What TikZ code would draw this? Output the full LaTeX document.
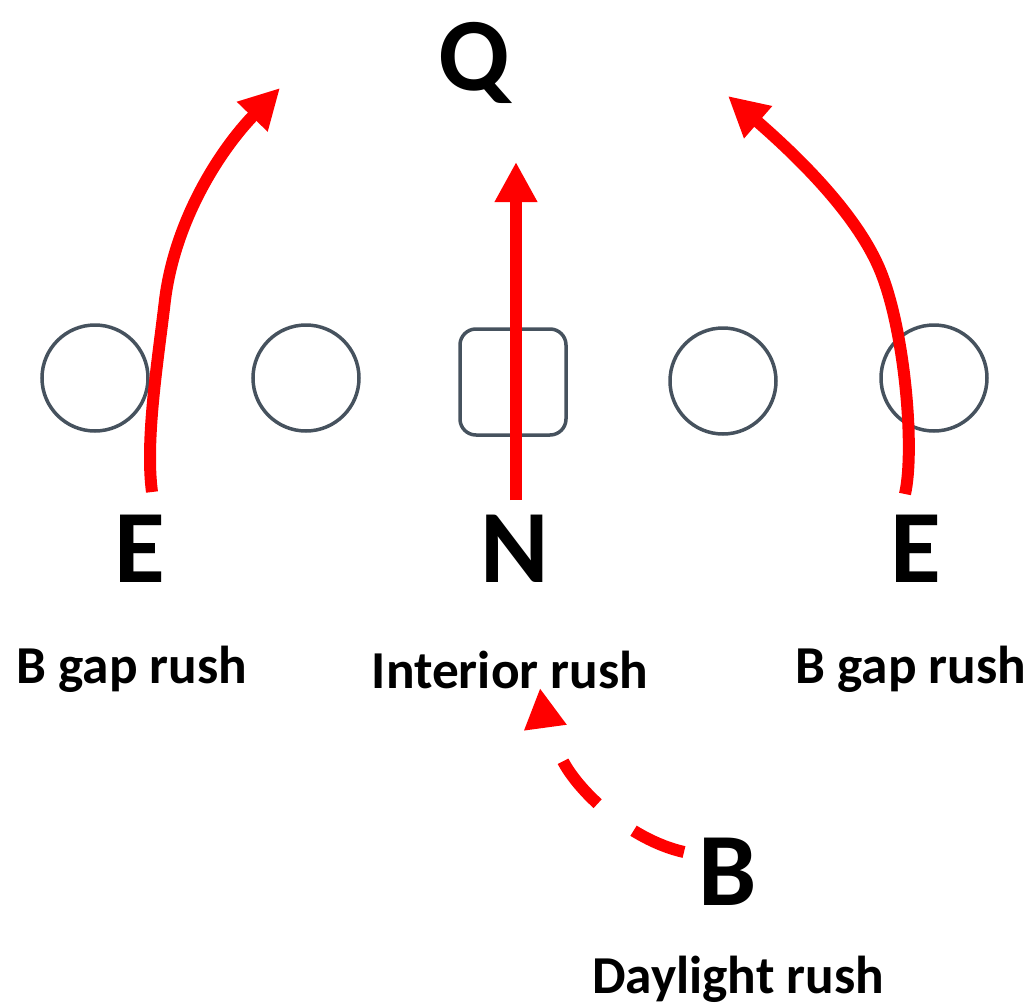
\documentclass[tikz,border=0pt]{standalone}
\usepackage{fontspec}
\setmainfont{Carlito}
\usetikzlibrary{arrows.meta}
\definecolor{ring}{HTML}{46525E}
\definecolor{rush}{HTML}{FF0000}
\begin{document}
\begin{tikzpicture}[x=0.75pt,y=-0.75pt,
  big/.style={font=\fontsize{78}{80}\selectfont\bfseries, inner sep=0pt, anchor=base},
  lbl/.style={font=\fontsize{40}{44}\selectfont\bfseries, inner sep=0pt, anchor=base},
  player/.style={draw=ring, line width=3.5*0.75pt, circle, minimum size=106*0.75pt, inner sep=0pt},
  center/.style={draw=ring, line width=3.5*0.75pt, rounded corners=12pt, minimum size=106*0.75pt, inner sep=0pt},
  path/.style={draw=rush, line width=12*0.75pt, line cap=butt, -{Triangle[width=40*0.75pt, length=40*0.75pt]}},
  dpath/.style={path, dash pattern=on 55*0.75pt off 45*0.75pt}
]
\useasboundingbox (0,0) rectangle (1033,1007);
% linemen
\node[player] (o1) at (95,378) {};
\node[player] (o2) at (306,378) {};
\node[center] (c) at (513,382) {};
\node[player] (o4) at (723,381) {};
\node[player] (o5) at (934,378) {};
% labels
\node[big] (q) at (474,90) {Q};
\node[big] (e1) at (140,582) {E};
\node[big] (n) at (515,582) {N};
\node[big] (e2) at (916,582) {E};
\node[big] (b) at (728,905) {B};
\node[lbl] (l1) at (132,683) {B gap rush};
\node[lbl] (l2) at (510,688) {Interior rush};
\node[lbl] (l3) at (911,683) {B gap rush};
\node[lbl] (l4) at (738,993) {Daylight rush};
% free ends
\coordinate (s1) at (152,492);
\coordinate (t1) at (280,88);
\coordinate (s2) at (516,500);
\coordinate (t2) at (516,162);
\coordinate (s3) at (905,494);
\coordinate (t3) at (728,96);
\coordinate (s4) at (684,852);
\coordinate (t4) at (540,688);
% arrows
\draw[path] (s1) .. controls (145,440) and (158,360) .. (165,300) .. controls (175,220) and (220,150) .. (t1);
\draw[path] (s2) -- (t2);
\draw[path] (s3) .. controls (915,450) and (905,330) .. (880,270) .. controls (855,210) and (790,150) .. (t3);
\draw[dpath] (s4) .. controls (630,840) and (575,790) .. (560,755) .. controls (550,735) and (543,710) .. (t4);
\end{tikzpicture}
\end{document}
